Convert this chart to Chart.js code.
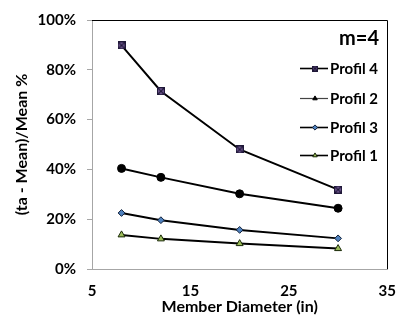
<!DOCTYPE html>
<html>
<head>
<meta charset="utf-8">
<script src="https://cdn.jsdelivr.net/npm/chart.js@4/dist/chart.umd.min.js"></script>
<style>
  html, body { margin: 0; padding: 0; background: #fff; }
  #wrap { width: 404px; height: 327px; position: relative; }
</style>
</head>
<body>
<div id="wrap"><canvas id="c" width="404" height="327"></canvas></div>
<script>
// Member diameters (in) and deviation of ta from mean (%) per profile
const diameters = [8, 12, 20, 30];
const profil4 = [89.8, 71.4, 48.0, 31.9];
const profil2 = [40.4, 36.8, 30.2, 24.4];
const profil3 = [22.5, 19.6, 15.7, 12.3];
const profil1 = [13.7, 12.1, 10.2, 8.2];
const seriesNames = ['Profil 4', 'Profil 2', 'Profil 3', 'Profil 1'];
const xTicks = [5, 15, 25, 35];
const yTicks = [0, 20, 40, 60, 80, 100];
const legendTitle = 'm=4';

const FONT = 'Lato, "Open Sans", sans-serif';

// square marker with a cross through it
function squareCross(size) {
  const c = document.createElement('canvas');
  c.width = size; c.height = size;
  const g = c.getContext('2d');
  g.fillStyle = '#8064a2';
  g.fillRect(0.5, 0.5, size - 1, size - 1);
  g.strokeStyle = '#1f1838';
  g.lineWidth = 1.2;
  g.strokeRect(0.6, 0.6, size - 1.2, size - 1.2);
  g.beginPath();
  g.moveTo(1, 1); g.lineTo(size - 1, size - 1);
  g.moveTo(size - 1, 1); g.lineTo(1, size - 1);
  g.stroke();
  return c;
}
const sqBig = squareCross(8);
const sqSmall = squareCross(6);

const pts = arr => diameters.map((d, i) => ({ x: d, y: arr[i] }));

const styles = [
  { data: profil4, pointStyle: sqBig, legendStyle: sqSmall, radius: 4, bg: '#8064a2', border: '#1f1838' },
  { data: profil2, pointStyle: 'circle', legendStyle: 'triangle', radius: 4, bg: '#000', border: '#000' },
  { data: profil3, pointStyle: 'rectRot', legendStyle: 'rectRot', radius: 3.4, bg: '#4f81bd', border: '#10203a' },
  { data: profil1, pointStyle: 'triangle', legendStyle: 'triangle', radius: 4, bg: '#9bbb59', border: '#1a2a08' }
];

const datasets = styles.map((s, i) => ({
  label: seriesNames[i],
  data: pts(s.data),
  borderColor: '#000',
  borderWidth: 2,
  pointStyle: s.pointStyle,
  pointRadius: s.radius,
  pointHoverRadius: s.radius,
  pointBackgroundColor: s.bg,
  pointBorderColor: s.border,
  pointBorderWidth: 1,
  tension: 0,
  fill: false,
  legendStyle: s.legendStyle
}));

// top and right frame of the plot area
const frame = {
  id: 'frame',
  beforeDatasetsDraw(chart) {
    const { ctx, chartArea: a } = chart;
    ctx.save();
    ctx.strokeStyle = '#000';
    ctx.lineWidth = 1;
    ctx.beginPath();
    ctx.moveTo(a.left, Math.round(a.top) + 0.5);
    ctx.lineTo(Math.round(a.right) + 0.5, Math.round(a.top) + 0.5);
    ctx.lineTo(Math.round(a.right) + 0.5, a.bottom);
    ctx.stroke();
    ctx.restore();
  }
};

// legend box inside the plot, with its title
const innerLegend = {
  id: 'innerLegend',
  afterDatasetsDraw(chart) {
    const { ctx } = chart;
    ctx.save();
    ctx.fillStyle = '#000';
    ctx.font = 'bold 20px ' + FONT;
    ctx.textAlign = 'right';
    ctx.textBaseline = 'middle';
    ctx.fillText(legendTitle, 379, 39);
    ctx.font = 'bold 15px ' + FONT;
    ctx.textAlign = 'left';
    const rows = [68, 98, 127, 155];
    chart.data.datasets.forEach((ds, i) => {
      const y = rows[i];
      ctx.strokeStyle = i === 1 ? '#444' : '#000';
      ctx.lineWidth = i === 1 ? 1.2 : 1.6;
      ctx.beginPath();
      ctx.moveTo(300, y + 0.5);
      ctx.lineTo(328, y + 0.5);
      ctx.stroke();
      ctx.fillStyle = ds.pointBackgroundColor;
      ctx.strokeStyle = ds.pointBorderColor;
      ctx.lineWidth = 1;
      Chart.helpers.drawPoint(ctx, { pointStyle: ds.legendStyle, radius: 2.6, borderWidth: 1 }, 315, y + 0.5);
      ctx.fillStyle = '#000';
      ctx.fillText(ds.label, 330, y + 1);
    });
    ctx.restore();
  }
};

new Chart(document.getElementById('c'), {
  type: 'line',
  data: { datasets },
  plugins: [frame, innerLegend],
  options: {
    responsive: false,
    animation: false,
    layout: { padding: { left: 0, right: 11, top: 16, bottom: 0 } },
    plugins: { legend: { display: false }, tooltip: { enabled: false } },
    scales: {
      x: {
        type: 'linear',
        min: 5, max: 35,
        afterBuildTicks: s => { s.ticks = xTicks.map(v => ({ value: v })); },
        afterFit: s => { s.height = 58; },
        grid: { display: false, drawOnChartArea: false, drawTicks: true, tickLength: 5, tickColor: '#a6a6a6' },
        border: { display: true, color: '#a6a6a6', width: 1 },
        ticks: { color: '#000', padding: 8, font: { family: FONT, size: 15, weight: 'bold' } },
        title: { display: true, text: 'Member Diameter (in)', color: '#000',
                 font: { family: FONT, size: 16, weight: 'bold' }, padding: { top: 0, bottom: 11 } }
      },
      y: {
        type: 'linear',
        min: 0, max: 100,
        afterBuildTicks: s => { s.ticks = yTicks.map(v => ({ value: v })); },
        afterFit: s => { s.width = 92; },
        grid: { display: true, drawOnChartArea: false, drawTicks: true, tickLength: 5, tickColor: '#a6a6a6' },
        border: { display: true, color: '#a6a6a6', width: 1 },
        ticks: { color: '#000', padding: 11, callback: v => v + '%', font: { family: FONT, size: 15, weight: 'bold' } },
        title: { display: true, text: '(ta - Mean)/Mean %', color: '#000',
                 font: { family: FONT, size: 16, weight: 'bold' }, padding: { top: 12, bottom: 0 } }
      }
    }
  }
});
</script>
</body>
</html>
